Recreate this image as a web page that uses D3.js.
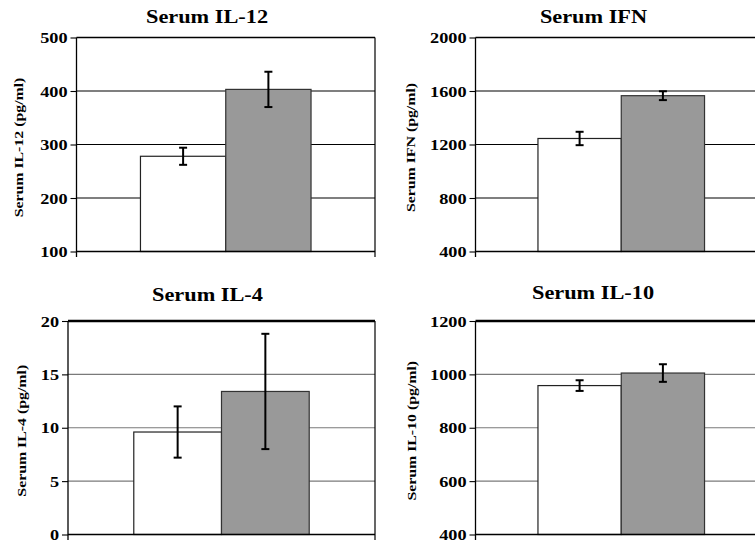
<!DOCTYPE html>
<html><head><meta charset="utf-8">
<script src="https://cdn.jsdelivr.net/npm/d3@7"></script>
<style>html,body{margin:0;padding:0;background:#fff;}svg{display:block;}</style>
</head><body>
<svg id="chart" width="755" height="543"></svg>
<script>
// ---- data ----
const groups = ["Control", "Treated"];
const titles = ["Serum IL-12", "Serum IFN", "Serum IL-4", "Serum IL-10"];
const yLabels = ["Serum IL-12 (pg/ml)", "Serum IFN (pg/ml)", "Serum IL-4 (pg/ml)", "Serum IL-10 (pg/ml)"];
const il12Means = [278, 403];
const il12Errs = [16, 33];
const ifnMeans = [1245, 1565];
const ifnErrs = [50, 33];
const il4Means = [9.6, 13.4];
const il4Errs = [2.4, 5.4];
const il10Means = [958, 1005];
const il10Errs = [20, 33];
const il12Ticks = [100, 200, 300, 400, 500];
const ifnTicks = [400, 800, 1200, 1600, 2000];
const il4Ticks = [0, 5, 10, 15, 20];
const il10Ticks = [400, 600, 800, 1000, 1200];

// ---- layout ----
const S = 1.2; // horizontal text stretch
const FONT = "'Liberation Serif','Times New Roman',serif";
const panels = [
  {title: titles[0], ylab: yLabels[0], means: il12Means, errs: il12Errs, ticks: il12Ticks,
   left: 76.5, right: 375, top: 37.5, bottom: 251.5, tx: 207, ty: 23, lx: 18, grid: "#000", topW: 1.5},
  {title: titles[1], ylab: yLabels[1], means: ifnMeans, errs: ifnErrs, ticks: ifnTicks,
   left: 475.5, right: 767, top: 37.5, bottom: 251.5, tx: 593.5, ty: 23, lx: 410, grid: "#000", topW: 1.5},
  {title: titles[2], ylab: yLabels[2], means: il4Means, errs: il4Errs, ticks: il4Ticks,
   left: 68, right: 375, top: 321, bottom: 534.5, tx: 207.5, ty: 301, lx: 21, grid: "#7a7a7a", topW: 2.5},
  {title: titles[3], ylab: yLabels[3], means: il10Means, errs: il10Errs, ticks: il10Ticks,
   left: 475.5, right: 767, top: 321, bottom: 534.5, tx: 593, ty: 299, lx: 411, grid: "#7a7a7a", topW: 2.5}
];
const fills = ["#ffffff", "#999999"];
const strokes = ["#222", "#333"];

const svg = d3.select("#chart");

panels.forEach(p => {
  const g = svg.append("g");
  const y = d3.scaleLinear().domain([p.ticks[0], p.ticks[p.ticks.length - 1]]).range([p.bottom, p.top]);
  const x = d3.scaleBand().domain(groups).range([p.left, p.right]).paddingInner(0).paddingOuter(0.75);

  // grid lines
  g.append("g").selectAll("line").data(p.ticks.slice(1, -1)).join("line")
    .attr("x1", p.left).attr("x2", p.right)
    .attr("y1", d => y(d)).attr("y2", d => y(d))
    .attr("stroke", p.grid).attr("stroke-width", 1.1);

  // top border
  g.append("line").attr("x1", p.left).attr("x2", p.right)
    .attr("y1", y(p.ticks[p.ticks.length - 1])).attr("y2", y(p.ticks[p.ticks.length - 1]))
    .attr("stroke", "#000").attr("stroke-width", p.topW);
  // right border
  g.append("line").attr("x1", p.right).attr("x2", p.right)
    .attr("y1", p.top).attr("y2", p.bottom + 5.5)
    .attr("stroke", "#000").attr("stroke-width", 1.2);

  // bars
  g.append("g").selectAll("rect").data(p.means).join("rect")
    .attr("x", (d, i) => x(groups[i]))
    .attr("width", x.bandwidth())
    .attr("y", d => y(d))
    .attr("height", d => y(p.ticks[0]) - y(d))
    .attr("fill", (d, i) => fills[i])
    .attr("stroke", (d, i) => strokes[i]).attr("stroke-width", 1.2);

  // bottom axis line
  g.append("line").attr("x1", p.left).attr("x2", p.right)
    .attr("y1", p.bottom).attr("y2", p.bottom)
    .attr("stroke", "#000").attr("stroke-width", 1.4);

  // error bars
  const eb = g.append("g").attr("stroke", "#000").attr("stroke-width", 2);
  p.means.forEach((m, i) => {
    const cx = x(groups[i]) + x.bandwidth() / 2;
    const e = p.errs[i];
    eb.append("line").attr("x1", cx).attr("x2", cx).attr("y1", y(m + e)).attr("y2", y(m - e));
    eb.append("line").attr("x1", cx - 4).attr("x2", cx + 4).attr("y1", y(m + e)).attr("y2", y(m + e));
    eb.append("line").attr("x1", cx - 4).attr("x2", cx + 4).attr("y1", y(m - e)).attr("y2", y(m - e));
  });

  // y axis
  const ax = g.append("g").attr("transform", `translate(${p.left},0)`)
    .call(d3.axisLeft(y).tickValues(p.ticks).tickSize(6).tickPadding(3).tickFormat(d3.format("d")));
  ax.select(".domain").remove();
  ax.append("line").attr("x1", 0).attr("x2", 0).attr("y1", p.top).attr("y2", p.bottom + 5.5)
    .attr("stroke", "#000").attr("stroke-width", 1.3);
  ax.selectAll(".tick line").attr("stroke", "#000").attr("stroke-width", 1.1);
  ax.selectAll(".tick text")
    .attr("x", -9 / S).attr("dy", "0.34em")
    .attr("transform", `scale(${S},1)`)
    .attr("font-family", FONT).attr("font-weight", "bold").attr("font-size", 15.2)
    .attr("fill", "#000");

  // title
  g.append("g").attr("transform", `translate(${p.tx},${p.ty})`)
    .append("text").attr("transform", `scale(${S},1)`)
    .attr("text-anchor", "middle")
    .attr("font-family", FONT).attr("font-weight", "bold").attr("font-size", 18.6)
    .text(p.title);

  // y label
  g.append("g").attr("transform", `translate(${p.lx},${(p.top + p.bottom) / 2 + 3}) rotate(-90)`)
    .append("text").attr("transform", `scale(${S},1)`)
    .attr("text-anchor", "middle").attr("dy", "0.35em")
    .attr("font-family", FONT).attr("font-weight", "bold").attr("font-size", 13.2)
    .text(p.ylab);
});
</script>
</body></html>
